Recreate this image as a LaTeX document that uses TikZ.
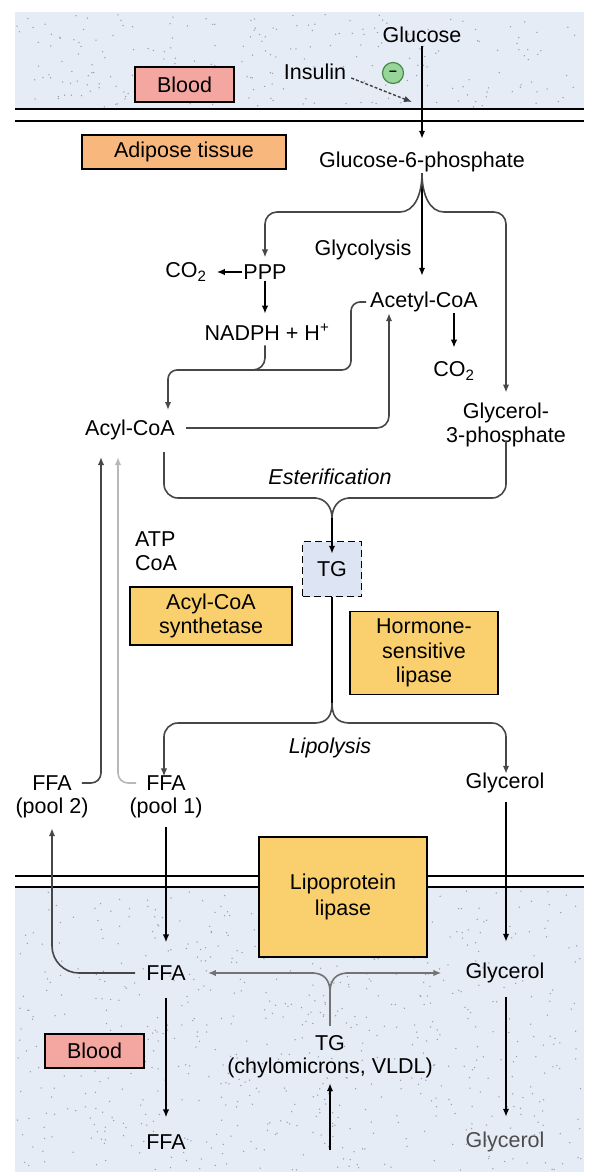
\documentclass[tikz,border=0pt]{standalone}
\usepackage{fontspec}
\setmainfont{Liberation Sans}
\usetikzlibrary{arrows.meta}
\definecolor{bluebg}{RGB}{230,236,246}
\definecolor{pinkc}{RGB}{244,166,160}
\definecolor{adic}{RGB}{248,183,124}
\definecolor{yelc}{RGB}{250,208,110}
\definecolor{tgc}{RGB}{221,228,243}
\definecolor{grnf}{RGB}{152,213,152}
\definecolor{grnd}{RGB}{74,138,74}
\definecolor{dotc}{RGB}{150,158,175}
\begin{document}
\begin{tikzpicture}[x=1pt,y=-1pt,
  txt/.style={font=\fontsize{21.5}{24.5}\selectfont, inner sep=1pt, align=center},
  lbl/.style={txt, draw=black, line width=1.6pt, inner sep=0pt},
  arr/.style={-{Latex[length=8pt,width=6.5pt]}},
  blk/.style={line width=1.8pt, draw=black},
  dk/.style={line width=1.6pt, draw=black!72},
  md/.style={line width=1.6pt, draw=black!55},
  lt/.style={line width=1.6pt, draw=black!28},
  memb/.style={line width=2.2pt, draw=black}]
\useasboundingbox (0,0) rectangle (597,1173);
% compartments
\fill[bluebg] (15,12) rectangle (584,109);
\fill[bluebg] (15,887) rectangle (584,1172);
\pgfmathsetseed{7}
\foreach \i in {1,...,230}{%
  \pgfmathsetmacro{\rx}{17+565*rnd}\pgfmathsetmacro{\ry}{14+93*rnd}%
  \fill[dotc] (\rx,\ry) circle (0.75pt);}
\foreach \i in {1,...,700}{%
  \pgfmathsetmacro{\rx}{17+565*rnd}\pgfmathsetmacro{\ry}{890+280*rnd}%
  \fill[dotc] (\rx,\ry) circle (0.75pt);}
\draw[memb] (15,109) -- (584,109);
\draw[memb] (15,121) -- (584,121);
\draw[memb] (15,876) -- (584,876);
\draw[memb] (15,887) -- (584,887);
% boxes
\node[lbl, fill=pinkc, minimum width=99pt, minimum height=35pt] (bloodtop) at (184.5,84.5) {Blood};
\node[lbl, fill=adic, minimum width=204pt, minimum height=34pt] (adipose) at (184,152) {Adipose tissue};
\node[lbl, fill=yelc, minimum width=162pt, minimum height=58pt] (acs) at (211,616) {Acyl-CoA\\synthetase};
\node[lbl, fill=yelc, minimum width=148pt, minimum height=83pt] (hsl) at (424,653) {Hormone-\\sensitive\\lipase};
\node[lbl, fill=pinkc, minimum width=99pt, minimum height=34pt] (bloodbot) at (94.5,1051) {Blood};
% text nodes
\node[txt] (glucose) at (422,35) {Glucose};
\node[txt] (insulin) at (315,72) {Insulin};
\node[circle, fill=grnf, draw=grnd, line width=1.2pt, minimum size=21pt, inner sep=0pt,
      font=\bfseries\fontsize{14}{14}\selectfont] (minus) at (393,73) {–};
\node[txt] (g6p) at (422,162) {Glucose-6-phosphate};
\node[txt] (glycolysis) at (363,250) {Glycolysis};
\node[txt] (ppp) at (265,272) {PPP};
\node[txt] (co2a) at (186,272) {CO\textsubscript{2}};
\node[txt] (nadph) at (267,332) {NADPH + H\textsuperscript{+}};
\node[txt] (acetyl) at (424,302) {Acetyl-CoA};
\node[txt] (co2b) at (454,371) {CO\textsubscript{2}};
\node[txt] (glyc3p) at (506,425) {Glycerol-\\3-phosphate};
\node[txt] (acyl) at (130,430) {Acyl-CoA};
\node[txt, font=\itshape\fontsize{21.5}{24.5}\selectfont] (ester) at (330,477) {Esterification};
\node[txt, align=left, anchor=west] (atp) at (134,551) {ATP\\CoA};
\node[txt, draw=black, dashed, dash pattern=on 7pt off 4pt, line width=1.5pt, fill=tgc,
      minimum width=59pt, minimum height=55pt] (tg) at (332,569) {TG};
\node[txt, font=\itshape\fontsize{21.5}{24.5}\selectfont] (lipolysis) at (330,748) {Lipolysis};
\node[txt] (ffa2) at (52,783) {FFA};
\node[txt] (pool2) at (52,808) {(pool 2)};
\node[txt] (ffa1) at (166,783) {FFA};
\node[txt] (pool1) at (166,808) {(pool 1)};
\node[txt] (glycerol) at (505,783) {Glycerol};
\node[lbl, fill=yelc, minimum width=168pt, minimum height=120pt] (lpl) at (343,897) {Lipoprotein\\[2pt]lipase};
\node[txt] (ffab) at (166,973) {FFA};
\node[txt] (glycerolb) at (505,973) {Glycerol};
\node[txt] (tgb1) at (330,1043) {TG};
\node[txt] (tgb2) at (330,1068) {(chylomicrons, VLDL)};
\node[txt] (ffac) at (166,1142) {FFA};
\node[txt, text=black!70] (glycerolc) at (505,1142) {Glycerol};
% helper coordinates
\coordinate (ins) at (412,102);
\coordinate (brY) at (0,212);
\coordinate (hA) at (0,370);
\coordinate (vA) at (351,0);
\coordinate (vB) at (389,0);
\coordinate (aTip) at (168,410);
\coordinate (eM) at (332,518);
\coordinate (lM) at (332,703);
\coordinate (tM) at (330,992);
\coordinate (p2tip) at (101,457);
\coordinate (p1tip) at (118,457);
\coordinate (bot) at (330,1150);
% connectors
\draw[blk,arr,shorten <=2pt,shorten >=12pt] (glucose.south) -- (g6p.north);
\draw[line width=1.4pt, draw=black!75, dash pattern=on 3pt off 2pt, arr] ([xshift=4pt,yshift=-6pt]insulin.east) -- (ins);
\draw[blk,arr] (g6p.south) -- ([yshift=15pt]acetyl.north -| g6p.south);
\draw[dk] (g6p.south) .. controls +(0,22) and +(14,0) .. (400,212);
\draw[dk,arr,rounded corners=12pt] (400,212) -- (ppp.north |- brY) -- ([yshift=6pt]ppp.north);
\draw[dk] (g6p.south) .. controls +(0,22) and +(-14,0) .. (444,212);
\draw[dk,arr,rounded corners=12pt] (444,212) -- (glyc3p.north |- brY) -- ([yshift=9pt]glyc3p.north);
\draw[blk,arr,shorten >=9pt] (ppp.west) -- (co2a.east);
\draw[blk,arr,shorten >=9pt] (ppp.south) -- (ppp.south |- nadph.north);
\draw[dk,rounded corners=12pt] ([yshift=-4pt]nadph.south -| ppp.south) -- (ppp.south |- hA) -- (230,370);
\draw[dk,arr,rounded corners=9pt] ([xshift=-3pt]acetyl.west) -- (acetyl.west -| vA) -- (vA |- hA) -- (aTip |- hA) -- (aTip);
\draw[dk,arr,rounded corners=12pt] ([xshift=10pt,yshift=2pt]acyl.east) -- ([yshift=2pt]acyl.east -| vB) -- (vB |- acetyl.south);
\draw[blk,arr,shorten >=13pt] (acetyl.south -| co2b.north) -- (co2b.north);
% esterification
\draw[dk,rounded corners=14pt] (164,452) -- (164,498) -- (316,498);
\draw[dk] (314,498) .. controls +(12,0) and +(0,-10) .. (eM);
\draw[dk,rounded corners=14pt] ([yshift=8pt]glyc3p.south) -- (506,498) -- (348,498);
\draw[dk] (350,498) .. controls +(-12,0) and +(0,-10) .. (eM);
\draw[blk,arr] (eM) -- ([yshift=-13pt]tg.north);
% lipolysis
\draw[blk] (tg.south) -- (lM);
\draw[dk] (lM) .. controls +(0,12) and +(14,0) .. (314,723);
\draw[dk,arr,rounded corners=14pt] (316,723) -- (164,723) -- ([xshift=-2pt,yshift=-2pt]ffa1.north);
\draw[dk] (lM) .. controls +(0,12) and +(-14,0) .. (350,723);
\draw[dk,arr,rounded corners=14pt] (348,723) -- (506,723) -- ([xshift=1pt,yshift=-2pt]glycerol.north);
% FFA back to acyl-CoA
\draw[dk,arr,rounded corners=10pt] ([xshift=9pt]ffa2.east) -- (ffa2.east -| p2tip) -- (p2tip);
\draw[lt,arr,rounded corners=10pt] ([xshift=-9pt]ffa1.west) -- (ffa1.west -| p1tip) -- (p1tip);
% down into blood
\draw[blk,arr,shorten <=8pt,shorten >=22pt] (pool1.south) -- (pool1.south |- ffab.north);
\draw[blk,arr,shorten <=8pt,shorten >=20pt] ([xshift=1pt]glycerol.south) -- ([xshift=1pt]glycerol.south |- glycerolb.north);
\draw[dk,arr,rounded corners=27pt,shorten >=9pt] ([xshift=-10pt]ffab.west) -- (ffab.west -| pool2.south) -- (pool2.south);
% TG in blood
\draw[md] ([yshift=8pt]tgb1.north) -- (tM);
\draw[md] (tM) .. controls +(0,-12) and +(12,0) .. (312,973);
\draw[md,arr] (314,973) -- ([xshift=21pt]ffab.east);
\draw[md] (tM) .. controls +(0,-12) and +(-12,0) .. (348,973);
\draw[md,arr] (346,973) -- ([xshift=-23pt]glycerolb.west);
\draw[blk,arr,shorten <=16pt,shorten >=16pt] (ffab.south) -- (ffac.north);
\draw[blk,arr,shorten <=13pt,shorten >=14pt] ([xshift=1pt]glycerolb.south) -- ([xshift=1pt]glycerolc.north);
\draw[blk,arr] (bot) -- ([yshift=-4pt]tgb2.south);
\end{tikzpicture}
\end{document}
